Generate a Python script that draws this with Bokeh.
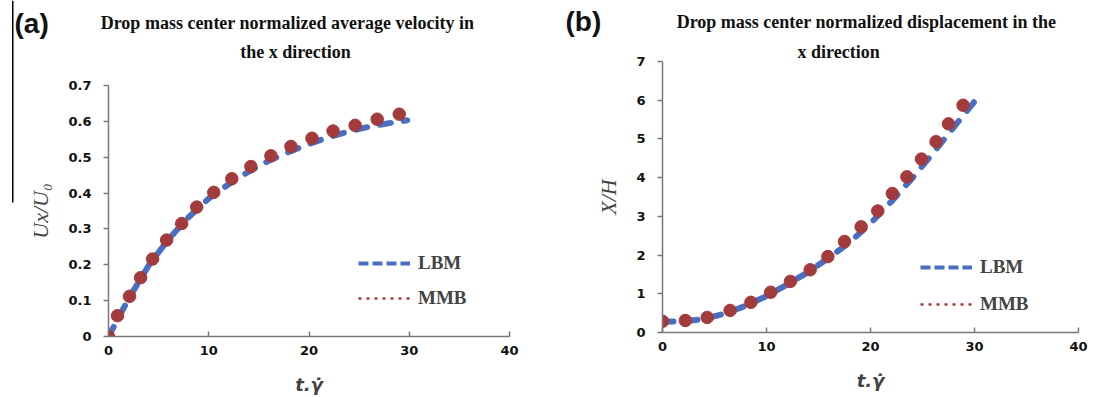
from bokeh.plotting import figure
from bokeh.layouts import row, column
from bokeh.models import (Label, Legend, LegendItem, FixedTicker, BoxAnnotation,
                          Range1d, ColumnDataSource, Title)
from bokeh.embed import file_html
from bokeh.resources import INLINE

# ---------------- data ----------------
# panel (a): normalized average velocity
a_mmb_t = [0, 0.9, 2.1, 3.2, 4.4, 5.8, 7.3, 8.8, 10.5, 12.3, 14.2, 16.2, 18.2, 20.3, 22.4, 24.6, 26.8, 29.0]
a_mmb_v = [0.0, 0.058, 0.112, 0.164, 0.216, 0.269, 0.315, 0.361, 0.402, 0.44, 0.474, 0.504, 0.53, 0.553, 0.573, 0.589, 0.606, 0.62]
a_lbm_t = [0, 2, 4, 6, 8, 10, 12, 14, 16, 18, 20, 22, 24, 26, 28, 29.8]
a_lbm_v = [0.0, 0.105, 0.198, 0.272, 0.333, 0.385, 0.425, 0.46, 0.49, 0.515, 0.537, 0.556, 0.572, 0.585, 0.595, 0.603]

# panel (b): normalized displacement
b_mmb_t = [0, 2.2, 4.3, 6.5, 8.5, 10.4, 12.3, 14.2, 15.9, 17.5, 19.1, 20.7, 22.1, 23.5, 24.9, 26.3, 27.5, 28.9]
b_mmb_x = [0.29, 0.31, 0.39, 0.57, 0.78, 1.04, 1.32, 1.62, 1.96, 2.35, 2.73, 3.14, 3.59, 4.02, 4.48, 4.93, 5.39, 5.87]
b_lbm_t = [0, 2, 4, 6, 8, 10, 12, 14, 16, 18, 20, 22, 24, 26, 28, 30.1]
b_lbm_x = [0.28, 0.29, 0.35, 0.49, 0.69, 0.94, 1.24, 1.56, 1.93, 2.33, 2.82, 3.38, 3.98, 4.63, 5.3, 6.0]

x_ticks = [0, 10, 20, 30, 40]
x_tick_labels = ["0", "10", "20", "30", "40"]
a_y_ticks = [0, 0.1, 0.2, 0.3, 0.4, 0.5, 0.6, 0.7]
a_y_tick_labels = ["0", "0.1", "0.2", "0.3", "0.4", "0.5", "0.6", "0.7"]
b_y_ticks = [0, 1, 2, 3, 4, 5, 6, 7]
b_y_tick_labels = ["0", "1", "2", "3", "4", "5", "6", "7"]

series_names = ["LBM", "MMB"]
titles_a = ["Drop mass center normalized average velocity in", "the x direction"]
titles_b = ["Drop mass center normalized displacement in the", "x direction"]

BLUE = "#4a6fc2"
RED = "#a33a3c"
AXIS = "#777777"
TICK_FONT = "DejaVu Sans"
SERIF = "Liberation Serif"


def blank(width, height):
    f = figure(width=width, height=height, output_backend="svg", toolbar_location=None,
               x_range=Range1d(0, 1), y_range=Range1d(0, 1),
               x_axis_location=None, y_axis_location=None, min_border=0)
    f.outline_line_color = None
    f.grid.visible = False
    return f


def header(width, height, tag, tag_pos, titles, title_pos):
    h = blank(width, height)
    for txt, (x, y) in zip(titles, title_pos):
        h.add_layout(Label(x=x, y=y, x_units="screen", y_units="screen", text=txt,
                           text_align="center", text_baseline="alphabetic",
                           text_font=SERIF, text_font_style="bold",
                           text_font_size="18px", text_color="#111111"))
    h.add_layout(Label(x=tag_pos[0], y=tag_pos[1], x_units="screen", y_units="screen",
                       text=tag, text_align="left", text_baseline="alphabetic",
                       text_font="Liberation Sans", text_font_style="bold",
                       text_font_size="28px", text_color="#111111"))
    return h


def make_panel(width, height, y_label, y_range, y_ticks, y_labels,
               lbm_t, lbm_y, mmb_t, mmb_y, borders, legend_loc, legend_spacing):
    bl, br, bt, bb = borders
    p = figure(width=width, height=height, output_backend="svg", toolbar_location=None,
               x_range=Range1d(0, 40), y_range=Range1d(*y_range),
               min_border_left=bl, min_border_right=br, min_border_top=bt, min_border_bottom=bb)
    p.outline_line_color = None
    p.grid.visible = False

    for ax in (p.xaxis, p.yaxis):
        ax.axis_line_color = AXIS
        ax.axis_line_width = 1.5
        ax.major_tick_line_color = AXIS
        ax.major_tick_line_width = 1.5
        ax.minor_tick_line_color = None
        ax.major_label_text_font = TICK_FONT
        ax.major_label_text_font_style = "bold"
        ax.major_label_text_font_size = "13px"
        ax.major_label_text_color = "#111111"
    p.xaxis.ticker = FixedTicker(ticks=x_ticks)
    p.xaxis.major_label_overrides = dict(zip(x_ticks, x_tick_labels))
    p.xaxis.major_tick_in = 5
    p.xaxis.major_tick_out = 0
    p.xaxis.major_label_standoff = 9
    p.yaxis.ticker = FixedTicker(ticks=y_ticks)
    p.yaxis.major_label_overrides = dict(zip(y_ticks, y_labels))
    p.yaxis.major_tick_in = 0
    p.yaxis.major_tick_out = 5
    p.yaxis.major_label_standoff = 12

    p.xaxis.axis_label = "t.\u03b3\u0307"
    p.xaxis.axis_label_text_font = "DejaVu Sans"
    p.xaxis.axis_label_text_font_style = "bold italic"
    p.xaxis.axis_label_text_font_size = "18px"
    p.xaxis.axis_label_standoff = 16

    p.yaxis.axis_label = y_label
    p.yaxis.axis_label_text_font = SERIF
    p.yaxis.axis_label_text_font_style = "italic"
    p.yaxis.axis_label_text_font_size = "22px"
    p.yaxis.axis_label_standoff = 12

    p.line(lbm_t, lbm_y, line_color=BLUE, line_width=6, line_dash="11 13", line_cap="round")
    p.scatter(mmb_t, mmb_y, size=12.5, fill_color=RED, line_color=RED, line_width=1)

    # legend glyph renderers (kept outside the visible x range)
    r_lbm = p.line("x", "y", source=ColumnDataSource(data=dict(x=[-20, -10], y=[0, 0])),
                   line_color=BLUE, line_width=4, line_dash="10 4")
    r_mmb = p.line("x", "y", source=ColumnDataSource(data=dict(x=[-20, -10], y=[0, 0])),
                   line_color=RED, line_width=2.5, line_dash="3 5")
    legend = Legend(items=[LegendItem(label=series_names[0], renderers=[r_lbm]),
                           LegendItem(label=series_names[1], renderers=[r_mmb])],
                    location=legend_loc, glyph_width=52, glyph_height=20, label_height=20,
                    label_standoff=8, spacing=legend_spacing, padding=10, margin=0,
                    label_text_font=SERIF, label_text_font_style="bold",
                    label_text_font_size="19px", border_line_alpha=0,
                    background_fill_alpha=0)
    p.add_layout(legend, "center")
    return p


# thin black vertical line at the far left of the picture
strip = blank(14, 397)
strip.add_layout(BoxAnnotation(left=11.5, right=13, bottom=397 - 202, top=397,
                               left_units="screen", right_units="screen",
                               bottom_units="screen", top_units="screen",
                               fill_color="black", fill_alpha=1, line_alpha=0))

# ---- panel (a) ----
head_a = header(541, 62, "(a)", (0, 62 - 23), titles_a, [(273, 62 - 22), (281, 62 - 51)])
pa = make_panel(541, 335, "Ux/U\u2080", (0, 0.7), a_y_ticks, a_y_tick_labels,
                a_lbm_t, a_lbm_v, a_mmb_t, a_mmb_v,
                borders=(94, 46, 23, 60), legend_loc=(240, 17), legend_spacing=13)

# ---- panel (b) ----
head_b = header(555, 39, "(b)", (10, 39 - 21), titles_b[:1], [(311, 39 - 21)])
pb = make_panel(555, 358, "X/H", (0, 7), b_y_ticks, b_y_tick_labels,
                b_lbm_t, b_lbm_x, b_mmb_t, b_mmb_x,
                borders=(107, 32, 21, 65), legend_loc=(248, 7), legend_spacing=15)
pb.add_layout(Title(text=titles_b[1], align="left", offset=135, standoff=0,
                    text_font=SERIF, text_font_style="bold", text_font_size="18px",
                    text_color="#111111"), "above")

layout = row(strip, column(head_a, row(pa)), column(head_b, row(pb)))
open("out.html", "w").write(file_html(layout, INLINE))
